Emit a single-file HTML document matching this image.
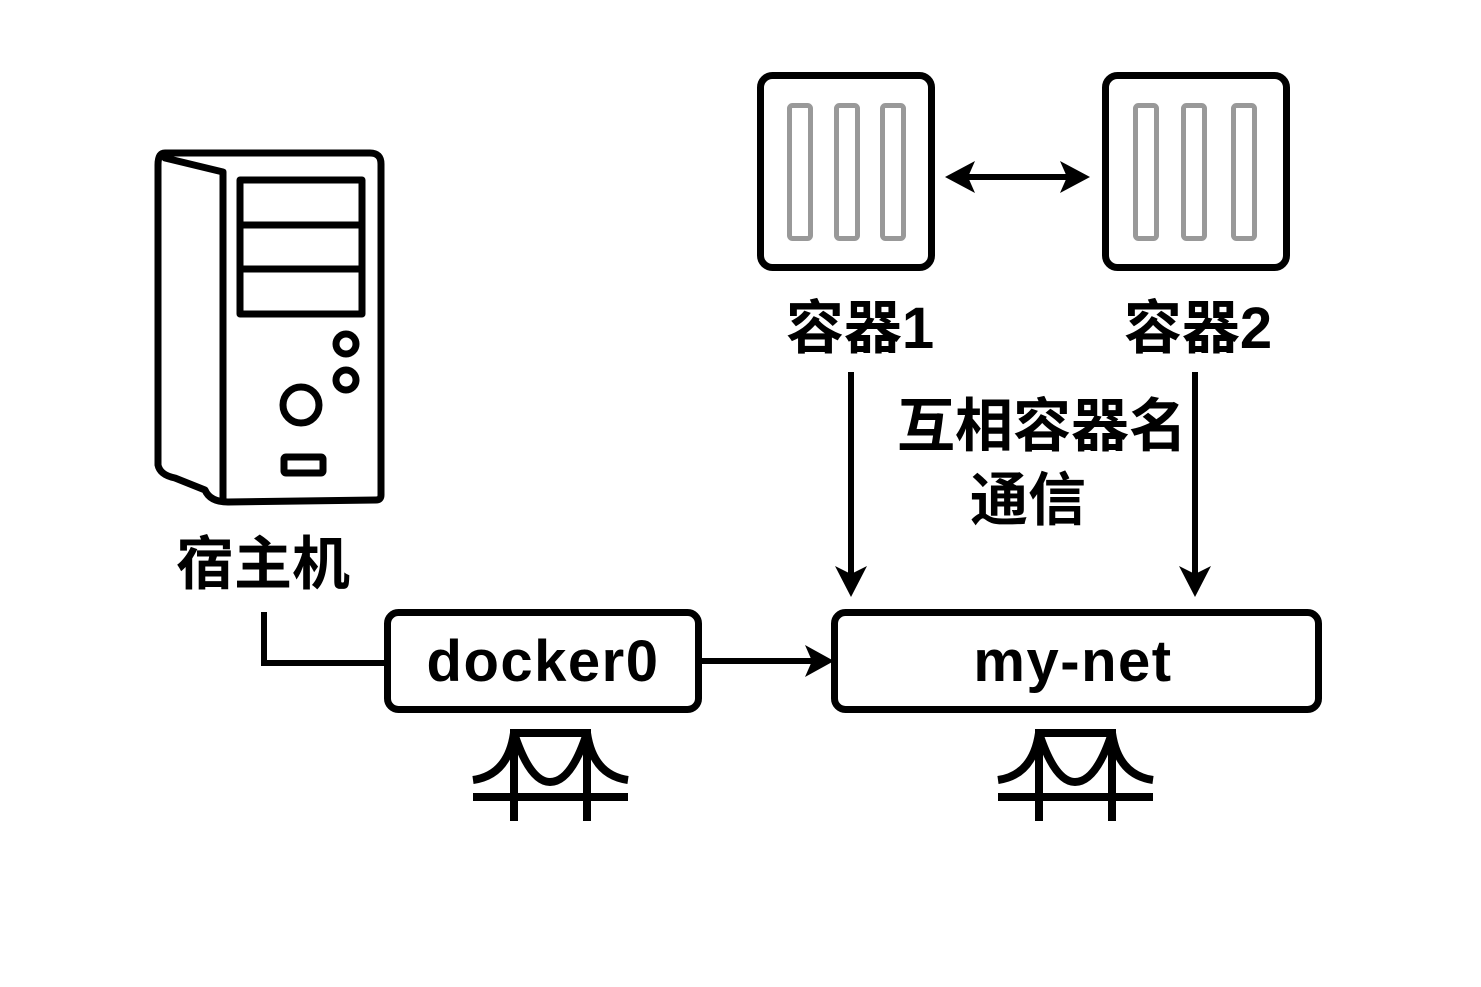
<!DOCTYPE html>
<html><head><meta charset="utf-8"><style>
html,body{margin:0;padding:0;background:#fff;}
svg{display:block;}
text{font-family:"Liberation Sans","Noto Sans CJK SC",sans-serif;font-weight:bold;fill:#000;}
</style></head><body>
<svg width="1481" height="987" viewBox="0 0 1481 987" xmlns="http://www.w3.org/2000/svg">
<rect width="1481" height="987" fill="#fff"/>
<!-- host computer -->
<g fill="none" stroke="#000" stroke-width="7" stroke-linejoin="round" stroke-linecap="round">
<path d="M165,153 L370,153 Q381,153 381,164 L381,495 Q381,500 376,500 L228,502 Q210,502 205,490 L175,478 Q160,475 158,465 L158,165 Q158,153 165,153 Z"/>
<path d="M165,158 L223,172 L223,500"/>
<rect x="240" y="180" width="122" height="134"/>
<line x1="240" y1="225" x2="362" y2="225"/>
<line x1="240" y1="269" x2="362" y2="269"/>
<circle cx="346" cy="344" r="10"/>
<circle cx="346" cy="380" r="10"/>
<circle cx="301" cy="405" r="18"/>
<rect x="284" y="457" width="39" height="16" rx="2"/>
</g>
<text x="263" y="584" font-size="58" text-anchor="middle">宿主机</text>
<!-- containers -->
<g>
<rect x="760.5" y="75.5" width="171" height="192" rx="12" fill="none" stroke="#000" stroke-width="7"/>
<g fill="none" stroke="#999" stroke-width="5"><rect x="789.5" y="105.5" width="21" height="133" rx="3"/><rect x="836.5" y="105.5" width="21" height="133" rx="3"/><rect x="882.5" y="105.5" width="21" height="133" rx="3"/></g>
<rect x="1105.5" y="75.5" width="181" height="192" rx="12" fill="none" stroke="#000" stroke-width="7"/>
<g fill="none" stroke="#999" stroke-width="5"><rect x="1135.5" y="105.5" width="21" height="133" rx="3"/><rect x="1183.5" y="105.5" width="21" height="133" rx="3"/><rect x="1233.5" y="105.5" width="21" height="133" rx="3"/></g>
</g>
<text x="860" y="348" font-size="58" text-anchor="middle">容器1</text>
<text x="1198" y="348" font-size="58" text-anchor="middle">容器2</text>
<!-- double arrow -->
<line x1="960" y1="177" x2="1075" y2="177" stroke="#000" stroke-width="6"/>
<path d="M945,177 L975,161 L968,177 L975,193 Z" fill="#000"/>
<path d="M1090,177 L1060,161 L1067,177 L1060,193 Z" fill="#000"/>
<!-- vertical arrows -->
<line x1="851" y1="372" x2="851" y2="575" stroke="#000" stroke-width="6"/>
<path d="M851,597 L835,566 L851,574 L867,566 Z" fill="#000"/>
<line x1="1195" y1="372" x2="1195" y2="575" stroke="#000" stroke-width="6"/>
<path d="M1195,597 L1179,566 L1195,574 L1211,566 Z" fill="#000"/>
<text x="1042" y="446" font-size="58" text-anchor="middle">互相容器名</text>
<text x="1028" y="520" font-size="58" text-anchor="middle">通信</text>
<!-- host line -->
<path d="M264,612 L264,663 L386,663" fill="none" stroke="#000" stroke-width="6"/>
<!-- boxes -->
<rect x="387.5" y="612.5" width="311" height="97" rx="11" fill="none" stroke="#000" stroke-width="7"/>
<text x="543" y="681" font-size="58" letter-spacing="1.5" text-anchor="middle">docker0</text>
<rect x="834.5" y="612.5" width="484" height="97" rx="11" fill="none" stroke="#000" stroke-width="7"/>
<text x="1073" y="681" font-size="58" letter-spacing="1.5" text-anchor="middle">my-net</text>
<line x1="702" y1="661" x2="815" y2="661" stroke="#000" stroke-width="6"/>
<path d="M834,661 L805,645 L812,661 L805,677 Z" fill="#000"/>
<!-- bridges -->
<g id="br" fill="none" stroke="#000" stroke-width="8">
<line x1="473" y1="797" x2="628" y2="797"/>
<line x1="514" y1="733" x2="514" y2="821"/>
<line x1="587" y1="733" x2="587" y2="821"/>
<line x1="510" y1="733" x2="591" y2="733"/>
<path d="M473,780 Q508,775 514,733"/>
<path d="M628,780 Q593,775 587,733"/>
<path d="M514,733 Q530,782 550,782 Q571,782 587,733"/>
</g>
<use href="#br" transform="translate(525,0)"/>
</svg>
</body></html>
